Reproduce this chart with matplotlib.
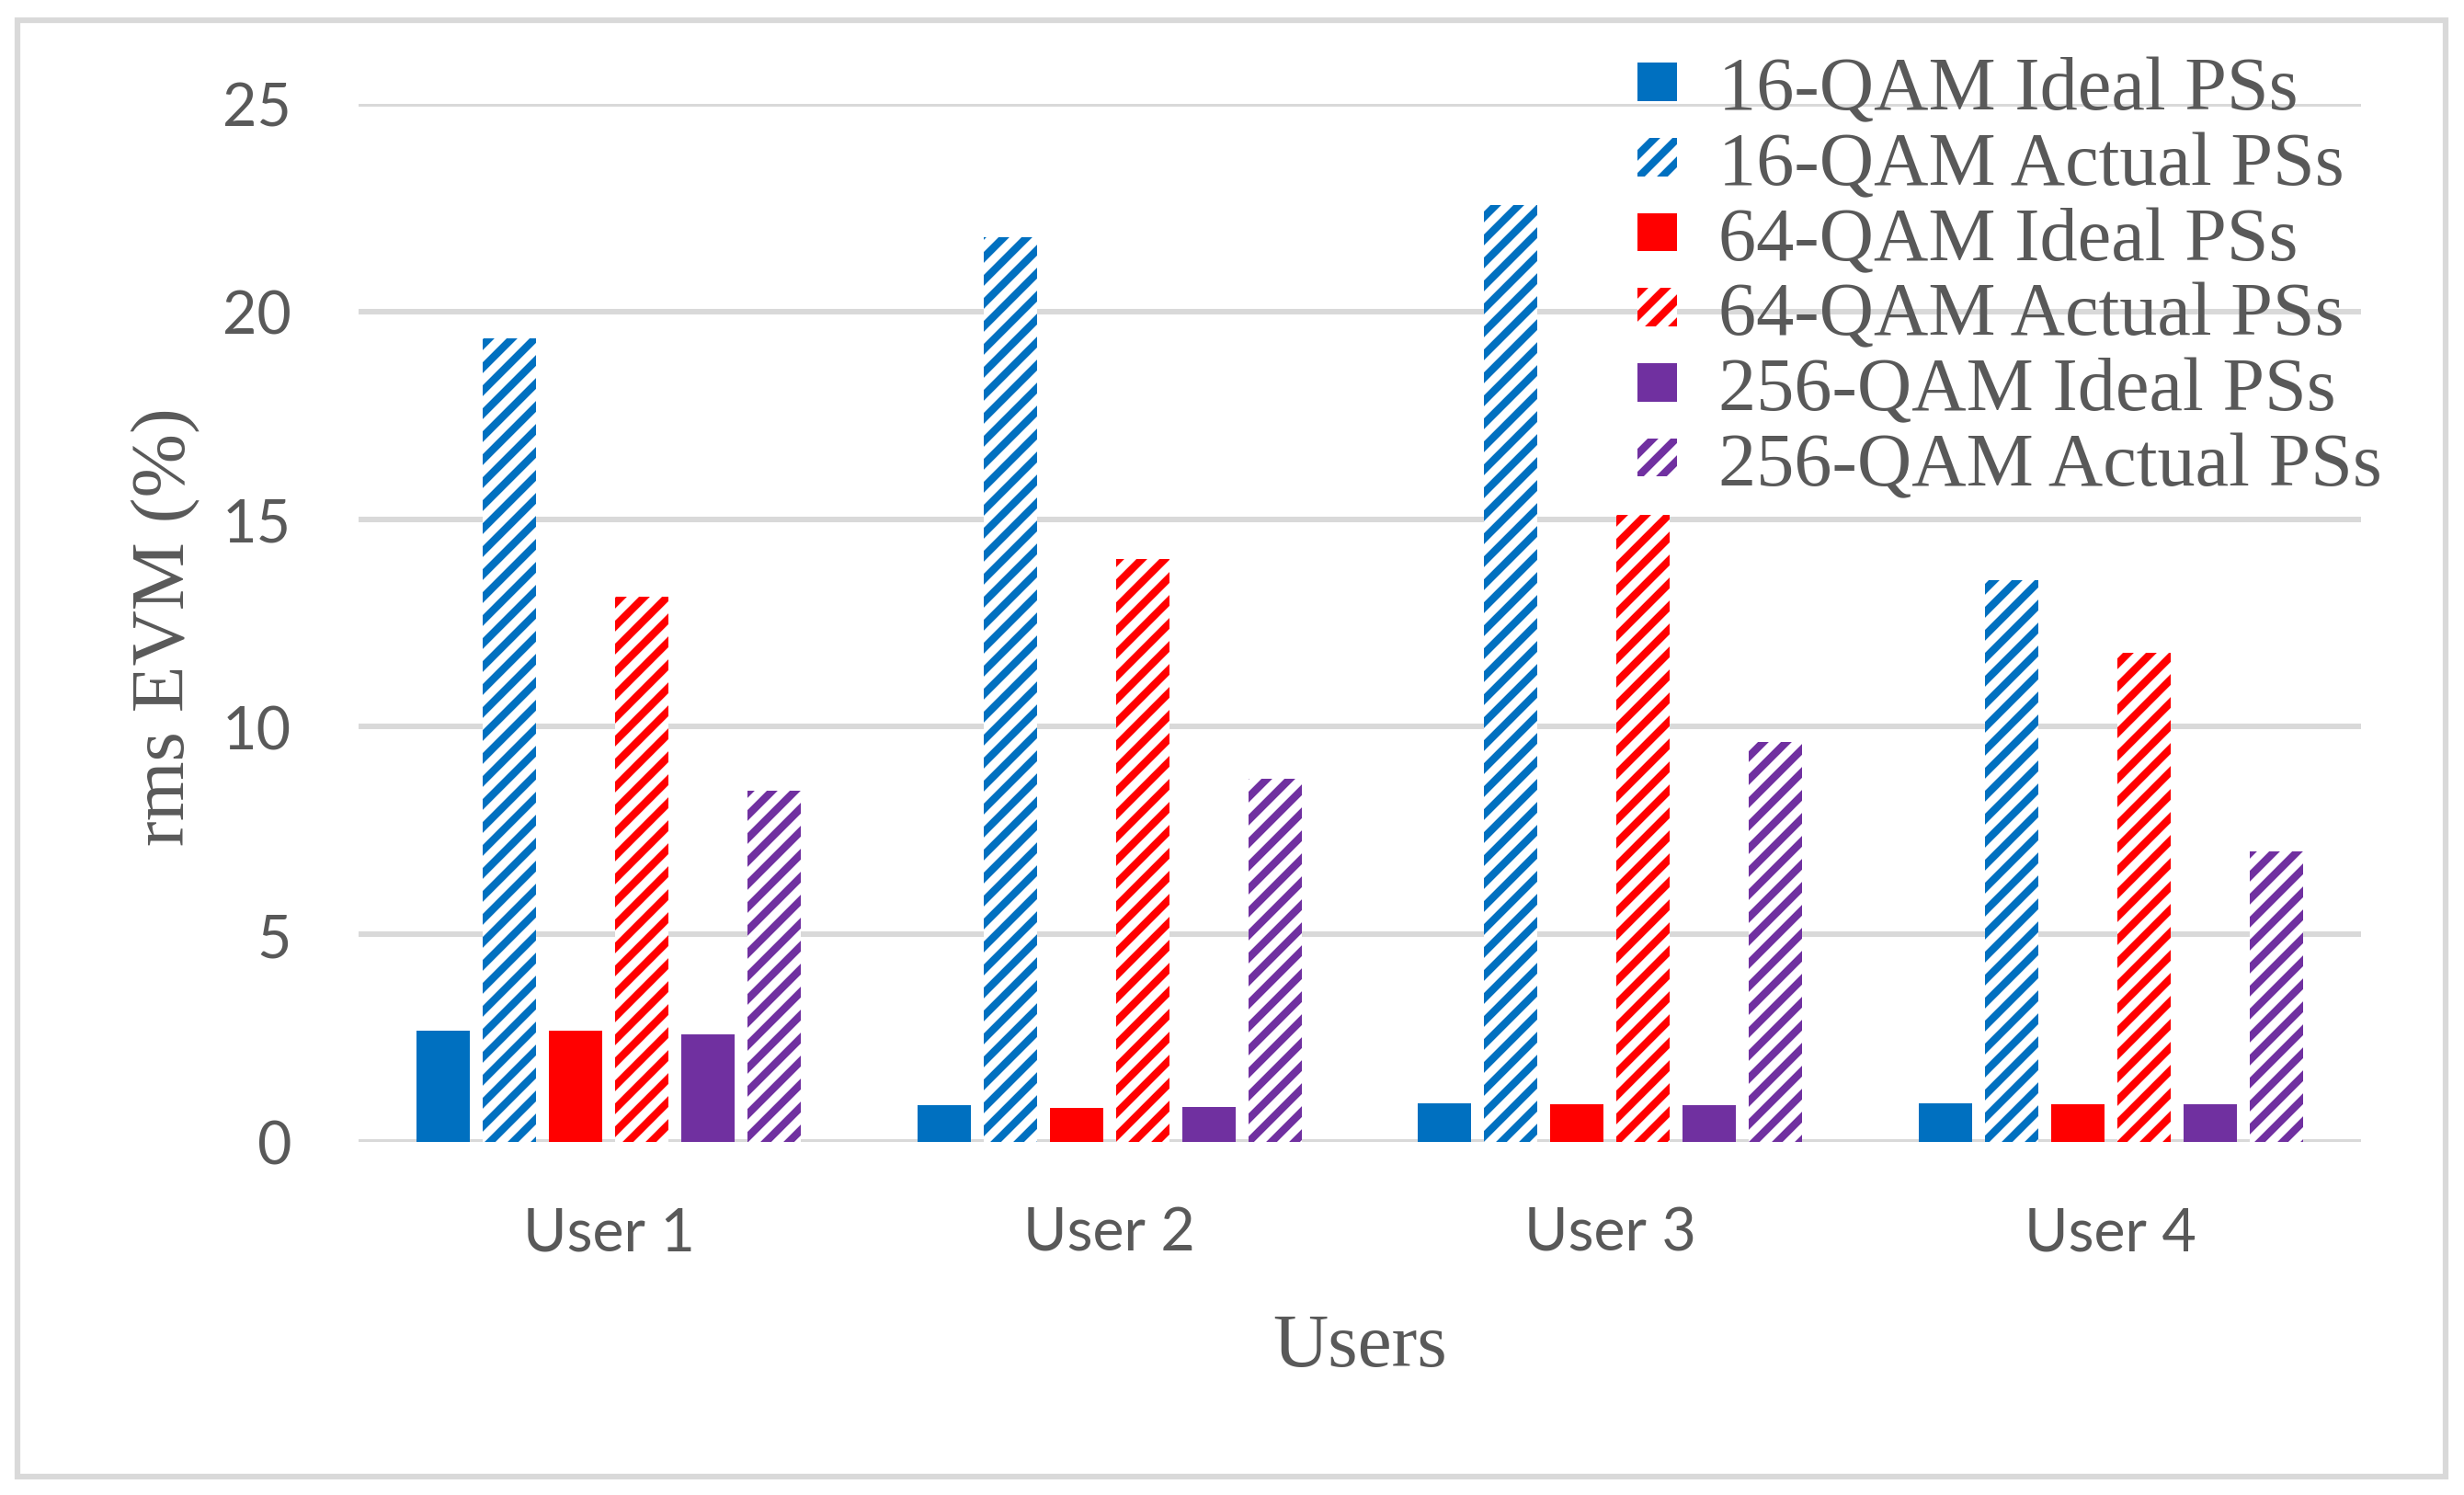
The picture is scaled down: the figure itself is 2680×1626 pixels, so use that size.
import matplotlib
matplotlib.use("Agg")
import matplotlib.pyplot as plt
import numpy as np
from matplotlib.patches import Rectangle

# -----------------------------------------------------------------------
# Data
# -----------------------------------------------------------------------
users = ["User 1", "User 2", "User 3", "User 4"]

ideal_16 = [2.67, 0.89, 0.94, 0.94]
actual_16 = [19.35, 21.79, 22.57, 13.52]
ideal_64 = [2.67, 0.82, 0.91, 0.91]
actual_64 = [13.13, 14.05, 15.10, 11.79]
ideal_256 = [2.60, 0.84, 0.89, 0.91]
actual_256 = [8.45, 8.75, 9.63, 6.99]

series_labels = [
    "16-QAM Ideal PSs", "16-QAM Actual PSs",
    "64-QAM Ideal PSs", "64-QAM Actual PSs",
    "256-QAM Ideal PSs", "256-QAM Actual PSs",
]
yticks = [0, 5, 10, 15, 20, 25]

BLUE = "#0070C0"
RED = "#FF0000"
PURPLE = "#7030A0"
GRID = "#D9D9D9"
TEXT = "#595959"

DPI = 150
W, H = 2680, 1627

plt.rcParams["hatch.linewidth"] = 4.0

fig = plt.figure(figsize=(W / DPI, H / DPI), dpi=DPI)
ax = fig.add_axes([390 / W, 1 - 1243 / H, (2568 - 390) / W, (1243 - 114) / H])

series = [ideal_16, actual_16, ideal_64, actual_64, ideal_256, actual_256]
colors = [BLUE, BLUE, RED, RED, PURPLE, PURPLE]
hatched = [False, True, False, True, False, True]

x = np.arange(len(users))
slot = 0.1322
width = 0.1065
handles = []
for i, (vals, col, hat) in enumerate(zip(series, colors, hatched)):
    off = (i - 2.5) * slot
    if hat:
        b = ax.bar(x + off, vals, width, facecolor="white", edgecolor=col,
                   hatch="//", linewidth=0, label=series_labels[i], zorder=3)
    else:
        b = ax.bar(x + off, vals, width, color=col, linewidth=0,
                   label=series_labels[i], zorder=3)
    handles.append(b)

ax.set_xlim(-0.5, len(users) - 0.5)
ax.set_ylim(0, 25)
ax.set_yticks(yticks)
ax.set_xticks(x)
ax.set_xticklabels(users)
ax.grid(axis="y", color=GRID, linewidth=2.9, zorder=0)
ax.set_axisbelow(True)
for s in ax.spines.values():
    s.set_visible(False)

tick_font = ["Lato", "DejaVu Sans"]
ax.tick_params(axis="y", length=0, pad=35, labelsize=31, labelcolor=TEXT)
ax.tick_params(axis="x", length=0, pad=33.5, labelsize=31, labelcolor=TEXT)
for lab in ax.get_xticklabels() + ax.get_yticklabels():
    lab.set_family(tick_font)

serif = ["Liberation Serif", "DejaVu Serif"]
fig.text(181 / W, 1 - 682 / H, "rms EVM (%)", rotation=90, ha="center",
         va="center", fontsize=40, color=TEXT, family=serif)
fig.text(1479 / W, 1 - 1486 / H, "Users", ha="center", va="baseline",
         fontsize=40, color=TEXT, family=serif)

leg = fig.legend(handles=handles, labels=series_labels, loc="upper left",
                 bbox_to_anchor=(1781 / W, 1 - 62 / H), frameon=False,
                 borderpad=0, borderaxespad=0, labelspacing=0.075,
                 handlelength=0.52, handleheight=0.4, handletextpad=0.55,
                 prop={"family": serif, "size": 39.5})
for t in leg.get_texts():
    t.set_color(TEXT)

# outer chart border
fig.patches.append(Rectangle((19 / W, 1 - 1607 / H), (2660 - 19) / W, (1607 - 23) / H,
                             transform=fig.transFigure, fill=False,
                             edgecolor=GRID, linewidth=3))

fig.savefig("out.png", dpi=DPI)
